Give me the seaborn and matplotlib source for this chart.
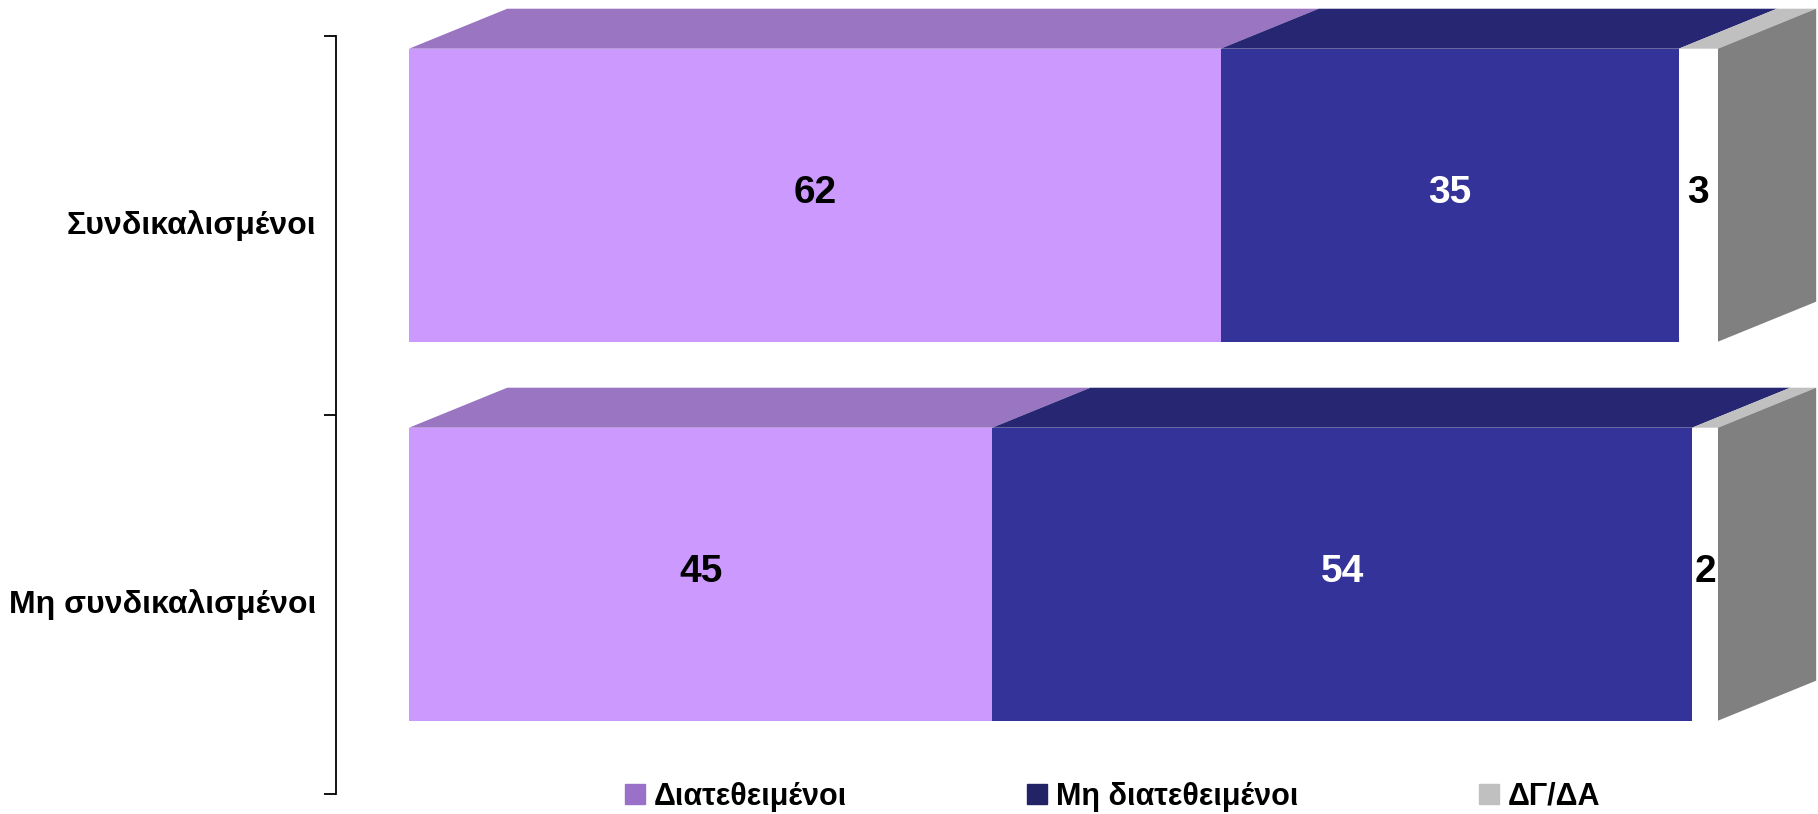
import matplotlib
matplotlib.use("Agg")
import matplotlib.pyplot as plt
from matplotlib.patches import Polygon, Patch
import numpy as np
import pandas as pd
import seaborn as sns

# data
groups = ["Συνδικαλισμένοι", "Μη συνδικαλισμένοι"]
series = ["Διατεθειμένοι", "Μη διατεθειμένοι", "ΔΓ/ΔΑ"]
willing = [62, 45]
not_willing = [35, 54]
dk_na = [3, 2]

front_colors = ["#CC99FF", "#333399", "#FFFFFF"]
top_colors = ["#9A75C2", "#262673", "#C0C0C0"]
legend_colors = ["#9A70C8", "#222266", "#C0C0C0"]
label_colors = ["black", "white", "black"]
side_color = "#808080"

values = np.array([willing, not_willing, dk_na]).T
pct = values / values.sum(axis=1, keepdims=True) * 100
cum = pct.cumsum(axis=1)

font = ["Liberation Sans", "DejaVu Sans"]

fig = plt.figure(figsize=(18.18, 8.14), dpi=100)
ax = fig.add_axes([336 / 1818, 20 / 814, 1482 / 1818, 758 / 814])

bar_h = 0.773
# stacked bars: draw the running totals from the largest down
for k in reversed(range(3)):
    df = pd.DataFrame({"group": groups, "cum": cum[:, k]})
    sns.barplot(data=df, x="cum", y="group", orient="h", color=front_colors[k],
                saturation=1, width=bar_h, linewidth=0, errorbar=None, ax=ax)

ax.set_xlim(-5.58, 107.64)
ax.set_ylim(1.58, -0.42)

# fake 3d: top faces and right side face
dx, dy = 7.5, 0.1055
for i in range(len(groups)):
    ytop = i - bar_h / 2
    ybot = i + bar_h / 2
    start = 0
    for k in range(3):
        end = cum[i, k]
        ax.add_patch(Polygon([(start, ytop), (end, ytop), (end + dx, ytop - dy), (start + dx, ytop - dy)],
                             closed=True, facecolor=top_colors[k], edgecolor="none", clip_on=False))
        ax.text(start + (end - start) / 2, i - 0.005, str(values[i, k]), ha="center", va="center",
                fontsize=28, fontweight="bold", family=font, color=label_colors[k])
        start = end
    ax.add_patch(Polygon([(100, ytop), (100 + dx, ytop - dy), (100 + dx, ybot - dy), (100, ybot)],
                         closed=True, facecolor=side_color, edgecolor="none", clip_on=False))

for s in ["top", "right", "bottom"]:
    ax.spines[s].set_visible(False)
ax.spines["left"].set_color("black")
ax.spines["left"].set_linewidth(1.3)
ax.set_xticks([])
ax.set_xlabel("")
ax.set_ylabel("")
ax.set_yticks([-0.42, 0.58, 1.58])
ax.set_yticklabels(["", "", ""])
ax.tick_params(axis="y", which="major", length=9, width=1.3, direction="out", color="black")
ax.set_yticks([0.072, 1.072], minor=True)
ax.set_yticklabels(groups, minor=True, fontsize=23, fontweight="bold", family=font)
ax.tick_params(axis="y", which="minor", length=0, pad=14)

handles = [Patch(color=legend_colors[k], label=series[k]) for k in range(3)]
fig.legend(handles=handles, loc="center", bbox_to_anchor=(0.612, 0.021), ncol=3, frameon=False,
           prop={"family": font, "weight": "bold", "size": 22},
           handlelength=0.65, handleheight=0.65, handletextpad=0.3, columnspacing=5.9)

fig.savefig("out.png", dpi=100)
